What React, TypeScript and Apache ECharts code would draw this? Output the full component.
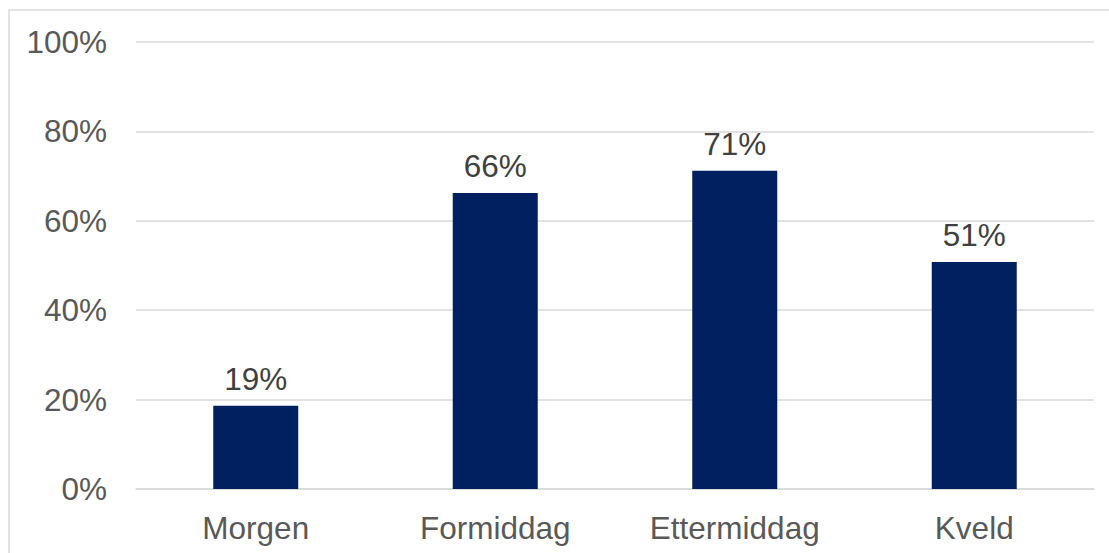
import React, { useEffect, useRef } from "react";
import * as echarts from "echarts";

const categories = ["Morgen", "Formiddag", "Ettermiddag", "Kveld"];
const values = [18.6, 66.2, 71.2, 50.8];
const yTicks = [0, 20, 40, 60, 80, 100];

const FONT = "Liberation Sans, Arial, sans-serif";

export default function App() {
  const ref = useRef<HTMLDivElement>(null);
  useEffect(() => {
    const chart = echarts.init(ref.current!, null, { renderer: "svg" });
    chart.setOption({
      animation: false,
      backgroundColor: "#ffffff",
      textStyle: { fontFamily: FONT },
      graphic: [
        {
          type: "rect",
          shape: { x: 9, y: 10, width: 1200, height: 700 },
          style: { fill: "none", stroke: "#d9d9d9", lineWidth: 1.5 },
          silent: true,
          z: 0,
        },
      ],
      grid: { left: 136, right: 15, top: 42, bottom: 64, containLabel: false },
      xAxis: {
        type: "category",
        data: categories,
        axisLine: { show: true, lineStyle: { color: "#d9d9d9", width: 1.5 } },
        axisTick: { show: false },
        axisLabel: { color: "#595959", fontSize: 31.5, margin: 23, fontFamily: FONT },
      },
      yAxis: {
        type: "value",
        min: yTicks[0],
        max: yTicks[yTicks.length - 1],
        interval: 20,
        axisLine: { show: false },
        axisTick: { show: false },
        splitLine: { lineStyle: { color: "#d9d9d9", width: 1.5 } },
        axisLabel: {
          color: "#595959",
          fontSize: 31.5,
          margin: 29,
          fontFamily: FONT,
          formatter: (v: number) => `${v}%`,
        },
      },
      series: [
        {
          type: "bar",
          data: values,
          barWidth: 85,
          itemStyle: { color: "#002060" },
          label: {
            show: true,
            position: "top",
            distance: 11,
            color: "#404040",
            fontSize: 31.5,
            fontFamily: FONT,
            formatter: (p: any) => `${Math.round(p.value)}%`,
          },
        },
      ],
    });
    return () => chart.dispose();
  }, []);
  return (
    <div
      ref={ref}
      style={{ position: "absolute", left: 0, top: 0, width: 1109, height: 553 }}
    />
  );
}
